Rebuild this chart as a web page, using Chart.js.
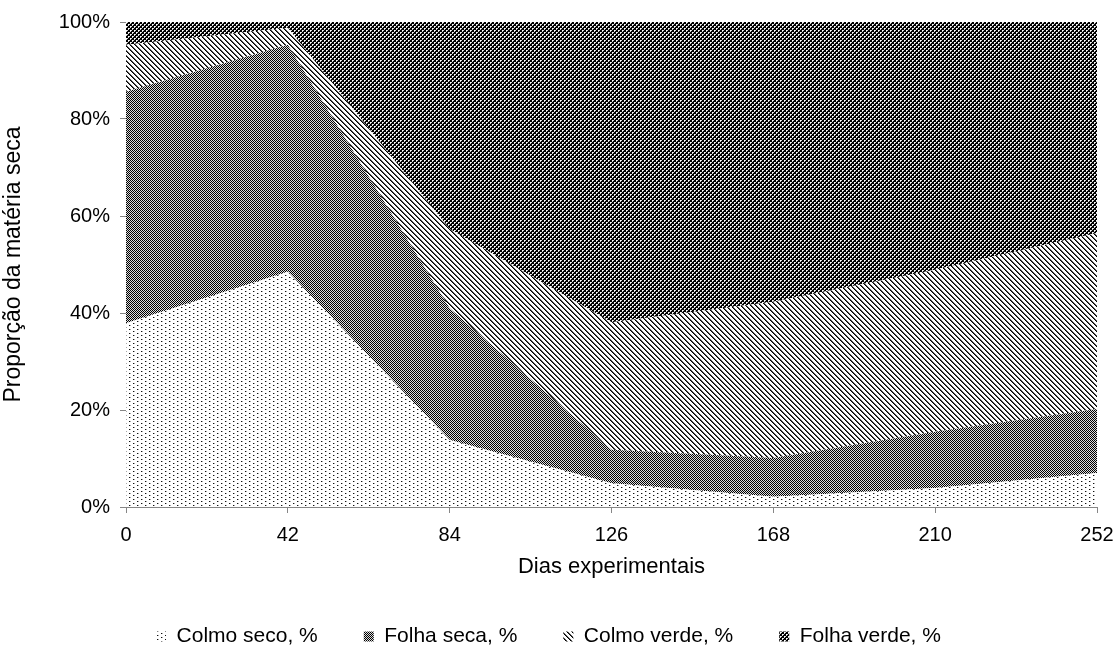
<!DOCTYPE html>
<html>
<head>
<meta charset="utf-8">
<script src="https://cdn.jsdelivr.net/npm/chart.js@4/dist/chart.umd.min.js"></script>
<style>
  body { margin: 0; background: #fff; }
  #wrap { width: 1119px; height: 652px; }
</style>
</head>
<body>
<div id="wrap"><canvas id="dmChart"></canvas></div>
<script>
const dias = ['0', '42', '84', '126', '168', '210', '252']
const colmoSeco = [37.9, 48.5, 13.8, 4.9, 2.1, 3.9, 7.0]
const folhaSeca = [47.7, 46.8, 27.2, 6.9, 8.0, 11.6, 13.2]
const colmoVerde = [9.7, 3.5, 16.3, 26.3, 32.2, 33.4, 36.3]
const folhaVerde = [4.7, 1.2, 42.7, 61.9, 57.7, 51.1, 43.5]
const serieNomes = ['Colmo seco, %', 'Folha seca, %', 'Colmo verde, %', 'Folha verde, %']

// small tiles used as fill patterns (black and white print style)
function makePattern(w, h, draw) {
    let c = document.createElement('canvas')
    c.width = w
    c.height = h
    let g = c.getContext('2d')
    g.fillStyle = '#fff'
    g.fillRect(0, 0, w, h)
    draw(g)
    return g.createPattern(c, 'repeat')
}

let ctx = document.getElementById('dmChart').getContext('2d')

let dots = makePattern(8, 4, g => {
    g.fillStyle = '#111'
    g.fillRect(1, 1, 1, 1)
    g.fillRect(5, 3, 1, 1)
    g.fillStyle = '#aaa'
    g.fillRect(2, 1, 1, 1)
    g.fillRect(6, 3, 1, 1)
})
let checker = makePattern(2, 2, g => {
    g.fillStyle = '#000'
    g.fillRect(0, 0, 1, 1)
    g.fillRect(1, 1, 1, 1)
    g.fillStyle = '#dcdcdc'
    g.fillRect(1, 0, 1, 1)
    g.fillRect(0, 1, 1, 1)
})
let hatch = makePattern(5, 5, g => {
    for (let i = 0; i < 5; i++) {
        g.fillStyle = '#000'
        g.fillRect(i, i, 1, 1)
        g.fillStyle = '#555'
        g.fillRect((i + 1) % 5, i, 1, 1)
    }
})
let darkGrid = makePattern(4, 4, g => {
    g.fillStyle = '#000'
    g.fillRect(0, 0, 4, 4)
    g.fillStyle = '#fff'
    g.fillRect(0, 0, 1, 1)
    g.fillRect(2, 2, 1, 1)
    g.fillStyle = '#d4d4d4'
    g.fillRect(1, 0, 1, 1)
    g.fillRect(0, 1, 1, 1)
    g.fillRect(3, 2, 1, 1)
    g.fillRect(2, 3, 1, 1)
})

const fills = [dots, checker, hatch, darkGrid]
const series = [colmoSeco, folhaSeca, colmoVerde, folhaVerde]

Chart.defaults.font.family = '"Liberation Sans", Arial, sans-serif'
Chart.defaults.color = '#000'

let dmChart = new Chart(ctx, {
    type: 'line',
    data: {
        labels: dias,
        datasets: series.map((vals, i) => ({
            label: serieNomes[i],
            data: vals,
            backgroundColor: fills[i],
            borderColor: 'rgba(0,0,0,0)',
            borderWidth: 0,
            pointRadius: 0,
            fill: i === 0 ? 'origin' : '-1',
            tension: 0
        }))
    },
    options: {
        responsive: true,
        maintainAspectRatio: false,
        animation: false,
        layout: { padding: { top: 22, right: 22, left: 0, bottom: -5 } },
        plugins: {
            tooltip: { enabled: false },
            legend: {
                position: 'bottom',
                labels: { boxWidth: 10, boxHeight: 10, padding: 46, font: { size: 21 } }
            }
        },
        scales: {
            x: {
                grid: { drawOnChartArea: false, tickLength: 6, color: '#868686' },
                border: { color: '#868686' },
                ticks: { padding: 10, font: { size: 20 }, maxRotation: 0 },
                title: { display: true, text: 'Dias experimentais', font: { size: 22 }, padding: { top: 10, bottom: 0 } },
                afterFit: s => {
                    s.height = 73
                    s.paddingLeft = 0
                    s.paddingRight = 0
                }
            },
            y: {
                stacked: true,
                min: 0,
                max: 100,
                grid: { drawOnChartArea: false, tickLength: 6, color: '#868686' },
                border: { color: '#868686' },
                ticks: { stepSize: 20, padding: 10, font: { size: 20 }, callback: v => v + '%' },
                title: { display: true, text: 'Proporção da matéria seca', font: { size: 23 }, padding: { top: 0, bottom: 6 } },
                afterFit: s => { s.width = 126 }
            }
        }
    }
})
</script>
</body>
</html>
